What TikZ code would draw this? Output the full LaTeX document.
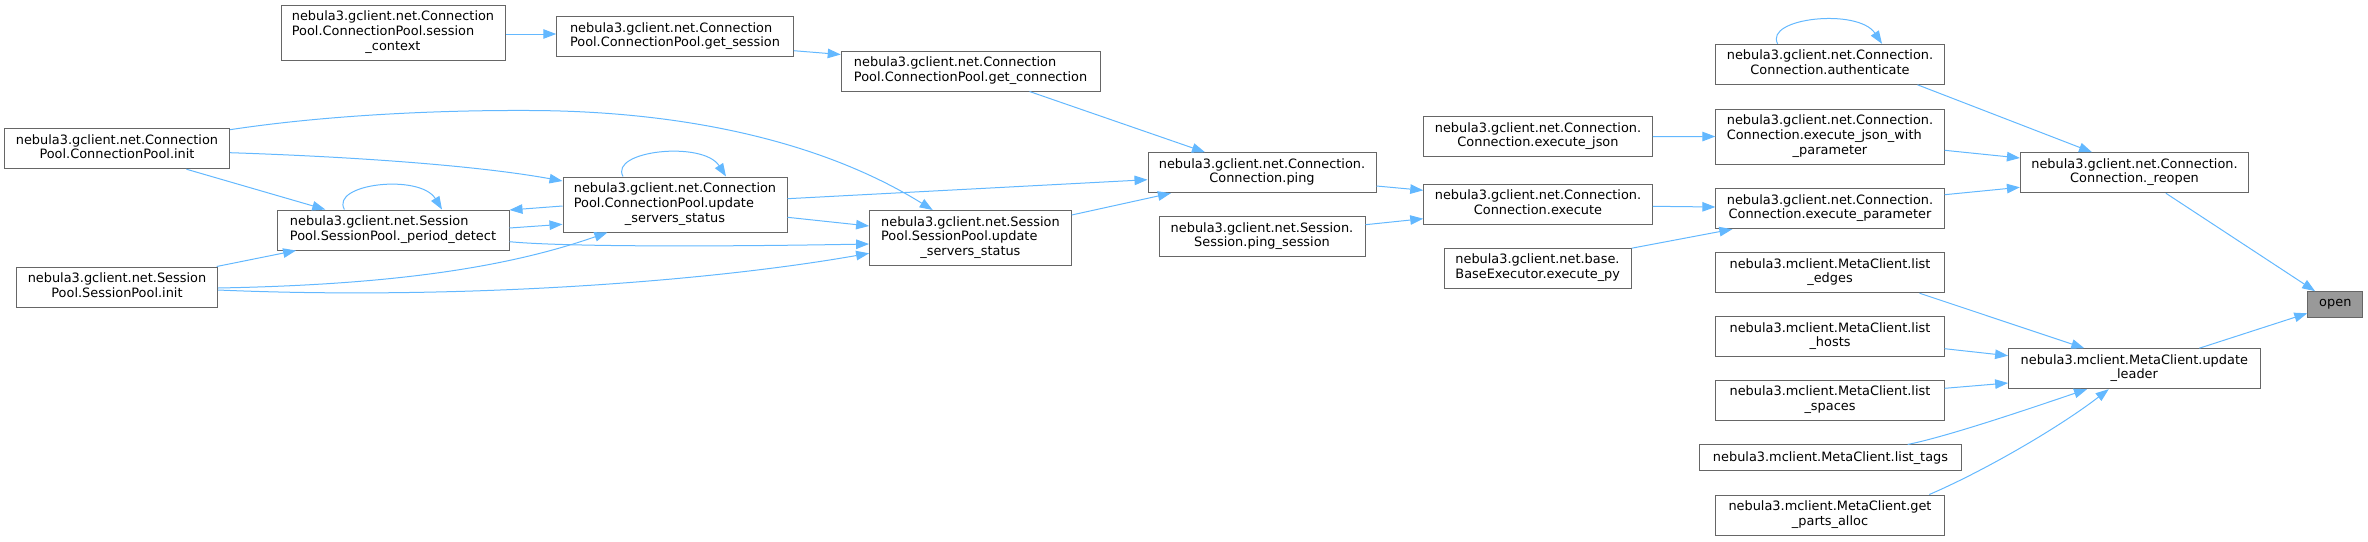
\documentclass[tikz,border=0pt]{standalone}
\usepackage{fontspec}
\setmainfont{DejaVu Sans}
\usetikzlibrary{arrows.meta,calc}
\definecolor{edgecol}{HTML}{63B8FF}
\definecolor{boxcol}{HTML}{666666}
\definecolor{opencol}{HTML}{999999}
\newcommand\lbl[2]{\begin{tabular}{@{}l@{}}#1\\\multicolumn{1}{@{}c@{}}{#2}\end{tabular}}
\tikzset{
  fn/.style={draw=boxcol, line width=1pt, fill=white, inner sep=0pt,
    minimum height=40pt, font=\fontsize{12.9}{14.7}\selectfont},
  tall/.style={minimum height=55pt},
  edge/.style={draw=edgecol, line width=1pt, -{Triangle[length=13pt,width=9.5pt]}},
}
\begin{document}
\begin{tikzpicture}[x=1pt,y=-1pt]
\useasboundingbox (0,0) rectangle (2368,541);
% column 1
\node[fn, minimum width=225pt] (cpi) at (117,148.7) {\lbl{nebula3.gclient.net.Connection}{Pool.ConnectionPool.init}};
\node[fn, minimum width=201pt] (spi) at (117,287) {\lbl{nebula3.gclient.net.Session}{Pool.SessionPool.init}};
% column 2
\node[fn, tall, minimum width=224pt] (sc) at (393,32.5) {\lbl{nebula3.gclient.net.Connection\\Pool.ConnectionPool.session}{\_context}};
\node[fn, minimum width=232pt] (pd) at (393,230) {\lbl{nebula3.gclient.net.Session}{Pool.SessionPool.\_period\_detect}};
% column 3
\node[fn, minimum width=236.5pt] (gs) at (675,36.7) {\lbl{nebula3.gclient.net.Connection}{Pool.ConnectionPool.get\_session}};
\node[fn, tall, minimum width=224pt] (cpu) at (675,204.5) {\lbl{nebula3.gclient.net.Connection\\Pool.ConnectionPool.update}{\_servers\_status}};
% column 4
\node[fn, minimum width=258.8pt] (gc) at (970.6,71) {\lbl{nebula3.gclient.net.Connection}{Pool.ConnectionPool.get\_connection}};
\node[fn, tall, minimum width=201.6pt] (spu) at (970.4,238) {\lbl{nebula3.gclient.net.Session\\Pool.SessionPool.update}{\_servers\_status}};
% column 5
\node[fn, minimum width=228pt] (ping) at (1262,172.7) {\lbl{nebula3.gclient.net.Connection.}{Connection.ping}};
\node[fn, minimum width=206pt] (pings) at (1262,236.7) {\lbl{nebula3.gclient.net.Session.}{Session.ping\_session}};
% column 6
\node[fn, minimum width=228.5pt] (ej) at (1538,136.7) {\lbl{nebula3.gclient.net.Connection.}{Connection.execute\_json}};
\node[fn, minimum width=228.5pt] (ex) at (1538,204.3) {\lbl{nebula3.gclient.net.Connection.}{Connection.execute}};
\node[fn, minimum width=187pt] (epy) at (1537.7,268.3) {\lbl{nebula3.gclient.net.base.}{BaseExecutor.execute\_py}};
% column 7
\node[fn, minimum width=228.3pt] (auth) at (1830,64.3) {\lbl{nebula3.gclient.net.Connection.}{Connection.authenticate}};
\node[fn, tall, minimum width=228.3pt] (ejwp) at (1830,136.5) {\lbl{nebula3.gclient.net.Connection.\\Connection.execute\_json\_with}{\_parameter}};
\node[fn, minimum width=228.3pt] (ep) at (1830,208.7) {\lbl{nebula3.gclient.net.Connection.}{Connection.execute\_parameter}};
\node[fn, minimum width=228.3pt] (le) at (1830,272.7) {\lbl{nebula3.mclient.MetaClient.list}{\_edges}};
\node[fn, minimum width=228.3pt] (lh) at (1830,336.7) {\lbl{nebula3.mclient.MetaClient.list}{\_hosts}};
\node[fn, minimum width=228.3pt] (ls) at (1830,400.3) {\lbl{nebula3.mclient.MetaClient.list}{\_spaces}};
\node[fn, minimum width=261.7pt, minimum height=25.7pt] (lt) at (1830.5,457.8) {nebula3.mclient.MetaClient.list\_tags};
\node[fn, minimum width=228.3pt] (gpa) at (1830,515) {\lbl{nebula3.mclient.MetaClient.get}{\_parts\_alloc}};
% column 8
\node[fn, minimum width=228.2pt] (reopen) at (2134.5,172.7) {\lbl{nebula3.gclient.net.Connection.}{Connection.\_reopen}};
\node[fn, minimum width=251.4pt] (ul) at (2134.3,368.7) {\lbl{nebula3.mclient.MetaClient.update}{\_leader}};
% column 9
\node[fn, fill=opencol, minimum width=55pt, minimum height=25.6pt] (open) at (2335.3,304.5) {open};

% edges
\draw[edge] ($(sc.east)+(0,1.5)$) -- ($(gs.west)+(0,-2.7)$);
\draw[edge] ($(gs.east)+(0,14)$) -- ($(gc.west)+(0,-16.5)$);
\draw[edge] ($(gc.south)+(58.9,0)$) -- ($(ping.north)+(-57,0)$);
\draw[edge] ($(cpi.east)+(0,4)$) .. controls (360,157) and (480,166) .. ($(cpu.west)+(0,-23.5)$);
\draw[edge] ($(cpi.north east)+(0,1.5)$) .. controls (320,116) and (430,110) .. (530,110.5)
   .. controls (680,111) and (820,140) .. ($(spu.north)+(-37.7,0)$);
\draw[edge] ($(cpi.south)+(69.4,0)$) -- ($(pd.north)+(-67.7,0)$);
\draw[edge] ($(pd.north)+(-48.6,0)$) .. controls ($(pd.north)+(-63,-26)$) and ($(pd.north)+(27,-36)$) .. ($(pd.north)+(49,0)$);
\draw[edge] ($(pd.east)+(0,-2)$) -- ($(cpu.west)+(0,19.8)$);
\draw[edge] ($(cpu.west)+(0,1.5)$) -- ($(pd.north east)+(0,0.5)$);
\draw[edge] ($(pd.east)+(0,11.7)$) .. controls (560,246.5) and (700,247) .. ($(spu.west)+(0,6)$);
\draw[edge] ($(spi.north east)+(-1.3,0)$) -- ($(pd.south west)+(19.6,0)$);
\draw[edge] ($(spi.east)+(0,1)$) .. controls (380,285) and (500,270) .. ($(cpu.south)+(-67.6,0)$);
\draw[edge] ($(spi.east)+(0,3)$) .. controls (450,300) and (700,283) .. ($(spu.west)+(0,15.3)$);
\draw[edge] ($(cpu.north)+(-52,0)$) .. controls ($(cpu.north)+(-66,-26)$) and ($(cpu.north)+(28,-36)$) .. ($(cpu.north)+(51,0)$);
\draw[edge] ($(cpu.east)+(0,-5.8)$) -- ($(ping.west)+(0,7)$);
\draw[edge] ($(cpu.east)+(0,12.8)$) -- ($(spu.west)+(0,-12)$);
\draw[edge] ($(spu.east)+(0,-23)$) -- ($(ping.south west)+(23.4,0)$);
\draw[edge] ($(ping.east)+(0,13.3)$) -- ($(ex.west)+(0,-14)$);
\draw[edge] ($(pings.east)+(0,-12)$) -- ($(ex.west)+(0,14.4)$);
\draw[edge] (ej.east) -- (ejwp.west);
\draw[edge] ($(ex.east)+(0,2)$) -- ($(ep.west)+(0,-1.7)$);
\draw[edge] ($(epy.north east)+(0,0.4)$) -- ($(ep.south west)+(17,0)$);
\draw[edge] ($(auth.north)+(-52.4,0)$) .. controls ($(auth.north)+(-66,-26)$) and ($(auth.north)+(28,-36)$) .. ($(auth.north)+(52,0)$);
\draw[edge] ($(auth.south)+(87.5,0)$) -- ($(reopen.north)+(-42.5,0)$);
\draw[edge] ($(ejwp.east)+(0,13.8)$) -- ($(reopen.west)+(0,-14.7)$);
\draw[edge] ($(ep.east)+(0,-14)$) -- ($(reopen.west)+(0,14.6)$);
\draw[edge] ($(reopen.south)+(31.3,0)$) -- ($(open.north west)+(7.8,0)$);
\draw[edge] ($(le.south)+(89.5,0)$) -- ($(ul.north)+(-50,0)$);
\draw[edge] ($(lh.east)+(0,12)$) -- ($(ul.west)+(0,-13)$);
\draw[edge] ($(ls.east)+(0,-12)$) -- ($(ul.west)+(0,14.3)$);
\draw[edge] ($(lt.north)+(77.2,0)$) .. controls (1950,436) and (2040,405) .. ($(ul.south)+(-47.3,0)$);
\draw[edge] ($(gpa.north)+(99.3,0)$) .. controls (1984,471) and (2058.7,427.7) .. ($(ul.south)+(-25.6,0)$);
\draw[edge] ($(ul.north)+(65,0)$) -- ($(open.west)+(0,8.8)$);
\end{tikzpicture}
\end{document}
